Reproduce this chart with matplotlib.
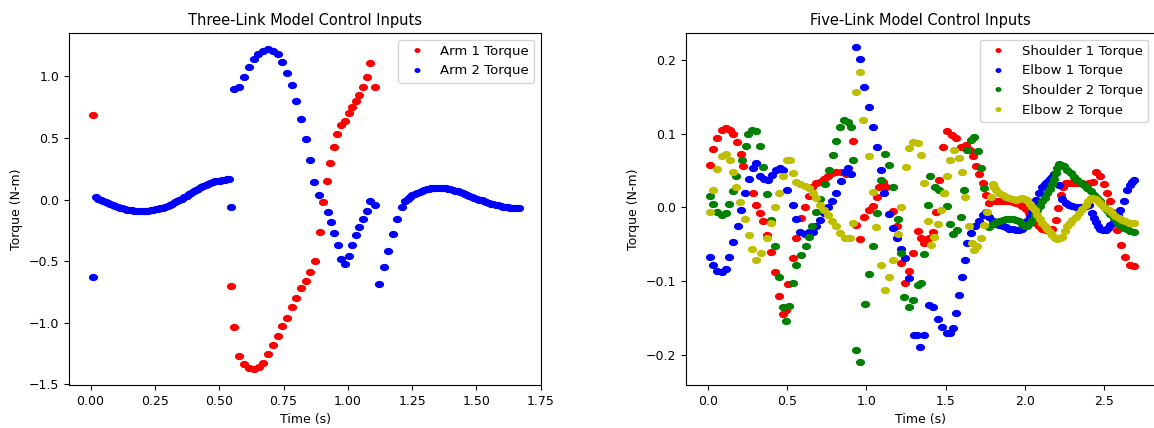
import numpy as np
import matplotlib
matplotlib.use("Agg")
import matplotlib.pyplot as plt
from matplotlib.path import Path

# ---- Three-link model (left) ----
arm1_t = [0.008, 0.545, 0.559, 0.578, 0.597, 0.616, 0.637, 0.656, 0.672, 0.691,
          0.709, 0.728, 0.746, 0.764, 0.782, 0.800, 0.818, 0.837, 0.853, 0.872,
          0.890, 0.905, 0.918, 0.932, 0.947, 0.958, 0.974, 0.990, 1.005, 1.018,
          1.031, 1.045, 1.058, 1.073, 1.087, 1.104]
arm1_y = [0.690, -0.703, -1.036, -1.269, -1.336, -1.369, -1.377, -1.355, -1.323, -1.252,
          -1.182, -1.104, -1.028, -0.958, -0.874, -0.795, -0.719, -0.657, -0.590, -0.495,
          -0.262, -0.019, 0.154, 0.300, 0.428, 0.536, 0.606, 0.639, 0.701, 0.752,
          0.799, 0.852, 0.915, 0.998, 1.110, 0.912]

arm2_t = [0.008,
          0.021, 0.030, 0.040, 0.049, 0.058, 0.068, 0.077, 0.086, 0.095, 0.105,
          0.114, 0.123, 0.132, 0.142, 0.151, 0.160, 0.169, 0.179, 0.188, 0.197,
          0.206, 0.216, 0.225, 0.234, 0.243, 0.253, 0.262, 0.271, 0.280, 0.290,
          0.299, 0.308, 0.317, 0.327, 0.336, 0.345, 0.354, 0.364, 0.373, 0.382,
          0.391, 0.401, 0.410, 0.419, 0.428, 0.438, 0.447, 0.456, 0.465, 0.475,
          0.484, 0.493, 0.502, 0.512, 0.521, 0.530, 0.538,
          0.545, 0.558, 0.578, 0.597, 0.616, 0.634, 0.652, 0.672, 0.691, 0.711,
          0.730, 0.746, 0.764, 0.782, 0.800, 0.818, 0.837, 0.852, 0.870, 0.888,
          0.921, 0.933, 0.946, 0.961, 0.973, 0.990, 1.005, 1.018, 1.032, 1.045,
          1.058, 1.073, 1.087, 1.106, 1.121, 1.139, 1.156, 1.174, 1.191, 1.210,
          1.224, 1.233, 1.242, 1.251, 1.261, 1.270, 1.279, 1.288, 1.298, 1.307,
          1.316, 1.325, 1.335, 1.344, 1.353, 1.362, 1.372, 1.381, 1.390, 1.399,
          1.409, 1.418, 1.427, 1.436, 1.446, 1.455, 1.464, 1.473, 1.483, 1.492,
          1.501, 1.510, 1.520, 1.529, 1.538, 1.547, 1.557, 1.566, 1.575, 1.584,
          1.594, 1.603, 1.612, 1.621, 1.631, 1.640, 1.649, 1.657, 1.664]
arm2_y = [-0.626,
          0.019, 0.008, -0.003, -0.013, -0.022, -0.031, -0.039, -0.047, -0.054, -0.061,
          -0.067, -0.072, -0.077, -0.081, -0.085, -0.088, -0.090, -0.092, -0.093, -0.094,
          -0.094, -0.092, -0.090, -0.087, -0.084, -0.080, -0.075, -0.070, -0.064, -0.057,
          -0.049, -0.041, -0.033, -0.023, -0.012, -0.002, 0.009, 0.020, 0.031, 0.043,
          0.055, 0.067, 0.080, 0.090, 0.100, 0.110, 0.119, 0.127, 0.135, 0.142,
          0.148, 0.152, 0.155, 0.159, 0.162, 0.165, 0.168,
          -0.062, 0.896, 0.917, 0.998, 1.080, 1.142, 1.183, 1.210, 1.223, 1.210,
          1.180, 1.115, 1.031, 0.931, 0.799, 0.652, 0.490, 0.320, 0.146, 0.041,
          -0.100, -0.178, -0.270, -0.370, -0.479, -0.525, -0.457, -0.370, -0.287, -0.219,
          -0.154, -0.092, -0.008, -0.043, -0.682, -0.549, -0.416, -0.278, -0.154, -0.062,
          -0.008, 0.008, 0.024, 0.036, 0.048, 0.057, 0.066, 0.074, 0.081, 0.086,
          0.090, 0.093, 0.095, 0.096, 0.097, 0.097, 0.096, 0.093, 0.090, 0.085,
          0.080, 0.074, 0.067, 0.061, 0.054, 0.047, 0.040, 0.032, 0.024, 0.015,
          0.007, 0.000, -0.007, -0.014, -0.020, -0.027, -0.033, -0.038, -0.042, -0.047,
          -0.051, -0.056, -0.060, -0.063, -0.066, -0.068, -0.069, -0.070, -0.071]

# ---- Five-link model (right) ----
sh1_t = [0.013, 0.034, 0.059, 0.086, 0.117, 0.138, 0.159, 0.184, 0.208, 0.222,
         0.285, 0.306, 0.327, 0.348, 0.375, 0.400, 0.426, 0.449, 0.474, 0.491,
         0.505, 0.537, 0.558, 0.589, 0.612, 0.637, 0.658, 0.683, 0.704, 0.730,
         0.757, 0.784, 0.809, 0.841, 0.872, 0.914, 0.935, 0.962, 0.987, 1.015,
         1.040, 1.065, 1.082, 1.107, 1.124, 1.166, 1.191, 1.218, 1.245, 1.270,
         1.291, 1.323, 1.344, 1.365, 1.396, 1.417, 1.438, 1.459, 1.480, 1.511,
         1.539, 1.564, 1.596, 1.627, 1.652, 1.673, 1.690, 1.711, 1.732, 1.753,
         1.774, 1.795, 1.816, 1.837, 1.858, 1.879, 1.900, 1.921, 1.942, 1.963,
         1.984, 2.005, 2.026, 2.047, 2.068, 2.089, 2.110, 2.131, 2.152, 2.173,
         2.194, 2.210, 2.224, 2.240, 2.256, 2.278, 2.299, 2.320, 2.341, 2.362,
         2.383, 2.404, 2.428, 2.449, 2.476, 2.497, 2.518, 2.533, 2.549, 2.565,
         2.581, 2.606, 2.633, 2.665, 2.686]
sh1_y = [0.057, 0.079, 0.094, 0.105, 0.107, 0.105, 0.099, 0.088, 0.072, 0.056,
         0.020, 0.003, -0.008, -0.019, -0.037, -0.060, -0.088, -0.120, -0.145, -0.139,
         -0.104, -0.069, -0.041, -0.015, 0.001, 0.016, 0.028, 0.033, 0.035, 0.038,
         0.043, 0.046, 0.048, 0.048, 0.045, 0.090, -0.024, -0.043, -0.013, -0.004,
         0.002, 0.014, 0.027, 0.035, 0.027, -0.005, -0.026, -0.076, -0.102, -0.086,
         -0.062, -0.032, -0.041, -0.049, -0.042, -0.033, -0.007, 0.037, 0.082, 0.103,
         0.098, 0.094, 0.082, 0.085, 0.078, 0.069, 0.056, 0.045, 0.033, 0.017,
         0.006, 0.008, 0.009, 0.009, 0.009, 0.008, 0.008, 0.007, 0.006, 0.005,
         0.002, -0.002, -0.008, -0.016, -0.021, -0.026, -0.030, -0.031, -0.032, -0.029,
         -0.017, -0.001, 0.017, 0.027, 0.033, 0.033, 0.033, 0.033, 0.033, 0.033,
         0.032, 0.033, 0.035, 0.048, 0.043, 0.032, 0.019, 0.008, -0.006, -0.018,
         -0.031, -0.051, -0.067, -0.078, -0.080]

el1_t = [0.013, 0.034, 0.059, 0.086, 0.113, 0.134, 0.159, 0.187, 0.208, 0.233,
         0.258, 0.285, 0.306, 0.331, 0.354, 0.379, 0.407, 0.432, 0.453, 0.474,
         0.499, 0.537, 0.558, 0.583, 0.610, 0.637, 0.662, 0.683, 0.709, 0.730,
         0.757, 0.784, 0.809, 0.841, 0.862, 0.883, 0.904, 0.935, 0.962, 0.987,
         1.015, 1.040, 1.065, 1.092, 1.113, 1.145, 1.166, 1.191, 1.218, 1.245,
         1.270, 1.302, 1.317, 1.340, 1.365, 1.396, 1.421, 1.449, 1.476, 1.505,
         1.526, 1.543, 1.564, 1.581, 1.602, 1.623, 1.637, 1.658, 1.686, 1.707,
         1.732, 1.753,
         1.774, 1.795, 1.816, 1.837, 1.858, 1.879, 1.900, 1.921, 1.942, 1.963,
         1.984, 2.000, 2.015, 2.031, 2.046, 2.057, 2.067, 2.088, 2.109, 2.125,
         2.141, 2.157, 2.172, 2.185, 2.214, 2.235, 2.256, 2.277, 2.298, 2.319,
         2.340, 2.361, 2.382, 2.403, 2.424, 2.437, 2.449, 2.462, 2.476, 2.492,
         2.508, 2.524, 2.539, 2.555, 2.570, 2.586, 2.602, 2.623, 2.644, 2.660,
         2.675, 2.690]
el1_y = [-0.067, -0.078, -0.087, -0.088, -0.083, -0.068, -0.047, -0.025, -0.004, 0.019,
         0.038, 0.054, 0.060, 0.043, 0.039, 0.037, 0.044, 0.050, 0.054, 0.050,
         0.024, 0.003, -0.016, -0.033, -0.036, -0.033, -0.034, -0.025, -0.017, -0.008,
         0.001, 0.008, 0.020, 0.036, 0.048, 0.054, 0.045, 0.218, 0.201, 0.163,
         0.136, 0.109, 0.082, 0.051, 0.020, -0.009, -0.028, -0.042, -0.056, -0.069,
         -0.096, -0.173, -0.173, -0.189, -0.173, -0.133, -0.135, -0.151, -0.163, -0.171,
         -0.171, -0.164, -0.144, -0.119, -0.094, -0.071, -0.049, -0.035, -0.026, -0.018,
         -0.010, -0.006,
         -0.013, -0.018, -0.022, -0.024, -0.026, -0.027, -0.029, -0.030, -0.031, -0.031,
         -0.029, -0.025, -0.019, -0.013, -0.006, 0.002, 0.010, 0.019, 0.028, 0.032,
         0.035, 0.038, 0.041, 0.045, 0.030, 0.011, 0.006, 0.003, 0.002, 0.001,
         0.001, 0.001, 0.002, 0.003, -0.008, -0.014, -0.020, -0.025, -0.029, -0.031,
         -0.031, -0.028, -0.024, -0.021, -0.017, -0.011, -0.004, 0.008, 0.023, 0.030,
         0.035, 0.037]

sh2_t = [0.013, 0.034, 0.059, 0.086, 0.113, 0.134, 0.159, 0.180, 0.212, 0.237,
         0.254, 0.281, 0.306, 0.327, 0.348, 0.373, 0.400, 0.426, 0.449, 0.474,
         0.491, 0.512, 0.537, 0.558, 0.589, 0.616, 0.637, 0.658, 0.683, 0.709,
         0.736, 0.761, 0.788, 0.809, 0.836, 0.858, 0.883, 0.904, 0.918, 0.935,
         0.962, 0.990, 1.015, 1.040, 1.066, 1.092, 1.119, 1.140, 1.166, 1.197,
         1.218, 1.239, 1.270, 1.291, 1.323, 1.344, 1.365, 1.386, 1.403, 1.434,
         1.459, 1.490, 1.511, 1.526, 1.543, 1.568, 1.595, 1.616, 1.637, 1.658,
         1.679, 1.704, 1.721, 1.742,
         1.774, 1.795, 1.816, 1.837, 1.858, 1.879, 1.900, 1.921, 1.942, 1.963,
         1.984, 2.000, 2.015, 2.031, 2.046, 2.062, 2.078, 2.094, 2.109, 2.125,
         2.141, 2.157, 2.172, 2.183, 2.193, 2.204, 2.214, 2.230, 2.245, 2.266,
         2.287, 2.308, 2.329, 2.350, 2.371, 2.392, 2.413, 2.434, 2.455, 2.476,
         2.497, 2.518, 2.539, 2.560, 2.581, 2.602, 2.623, 2.644, 2.665, 2.686]
sh2_y = [0.016, 0.005, -0.007, -0.010, -0.008, 0.005, 0.022, 0.043, 0.064, 0.083,
         0.099, 0.105, 0.103, 0.083, 0.055, 0.018, -0.017, -0.053, -0.094, -0.135,
         -0.154, -0.134, -0.103, -0.078, -0.065, -0.053, -0.040, -0.026, -0.006, 0.011,
         0.032, 0.051, 0.071, 0.090, 0.109, 0.118, 0.116, 0.109, 0.064, -0.194,
         -0.210, -0.131, -0.091, -0.052, -0.008, 0.037, 0.072, 0.057, 0.028, -0.016,
         -0.062, -0.121, -0.135, -0.126, -0.105, -0.103, -0.063, 0.003, 0.042, 0.028,
         0.024, 0.019, 0.002, -0.022, -0.036, -0.031, -0.013, 0.024, 0.078, 0.091,
         0.096, 0.076, 0.053, 0.026,
         -0.027, -0.023, -0.020, -0.018, -0.017, -0.016, -0.016, -0.016, -0.017, -0.019,
         -0.022, -0.025, -0.026, -0.021, -0.017, -0.010, -0.004, 0.002, 0.008, 0.013,
         0.019, 0.025, 0.032, 0.039, 0.046, 0.053, 0.059, 0.058, 0.056, 0.051,
         0.046, 0.041, 0.037, 0.033, 0.030, 0.026, 0.022, 0.017, 0.013, 0.008,
         0.002, -0.003, -0.009, -0.014, -0.020, -0.024, -0.028, -0.030, -0.032, -0.033]

el2_t = [0.013, 0.034, 0.059, 0.086, 0.113, 0.138, 0.159, 0.180, 0.205, 0.233,
         0.258, 0.281, 0.306, 0.333, 0.373, 0.400, 0.424, 0.447, 0.474, 0.499,
         0.516, 0.537, 0.558, 0.583, 0.610, 0.637, 0.662, 0.683, 0.704, 0.730,
         0.757, 0.784, 0.809, 0.834, 0.862, 0.893, 0.914, 0.935, 0.962, 0.977,
         1.015, 1.040, 1.061, 1.092, 1.119, 1.145, 1.166, 1.197, 1.218, 1.249,
         1.270, 1.296, 1.323, 1.344, 1.365, 1.386, 1.407, 1.428, 1.449, 1.470,
         1.490, 1.511, 1.526, 1.553, 1.581, 1.602, 1.623, 1.644, 1.665, 1.679,
         1.700, 1.721, 1.742, 1.763, 1.784,
         1.795, 1.805, 1.816, 1.837, 1.858, 1.879, 1.900, 1.921, 1.942, 1.963,
         1.983, 2.000, 2.015, 2.031, 2.046, 2.062, 2.078, 2.094, 2.109, 2.125,
         2.141, 2.157, 2.172, 2.188, 2.203, 2.219, 2.235, 2.251, 2.267, 2.283,
         2.298, 2.319, 2.340, 2.361, 2.382, 2.398, 2.413, 2.429, 2.445, 2.466,
         2.487, 2.507, 2.528, 2.549, 2.570, 2.591, 2.612, 2.633, 2.654, 2.670,
         2.686]
el2_y = [-0.007, 0.024, 0.052, 0.069, 0.072, 0.064, 0.048, 0.028, 0.007, -0.016,
         -0.038, -0.057, -0.071, -0.062, -0.042, -0.021, 0.000, 0.019, 0.042, 0.064,
         0.064, 0.047, 0.035, 0.032, 0.029, 0.026, 0.019, 0.012, 0.003, -0.004,
         -0.010, -0.018, -0.026, -0.035, -0.041, -0.042, -0.021, 0.157, 0.184, 0.118,
         0.069, 0.021, -0.027, -0.078, -0.112, -0.094, -0.071, -0.036, 0.001, 0.055,
         0.080, 0.088, 0.087, 0.071, 0.033, -0.019, -0.051, -0.040, -0.022, -0.004,
         0.019, 0.042, 0.064, 0.078, 0.067, 0.048, 0.014, -0.026, -0.049, -0.058,
         -0.053, -0.041, -0.024, -0.006, 0.014,
         0.031, 0.028, 0.024, 0.020, 0.017, 0.014, 0.012, 0.011, 0.010, 0.011,
         0.012, 0.011, 0.010, 0.005, 0.001, -0.004, -0.010, -0.016, -0.021, -0.025,
         -0.029, -0.034, -0.038, -0.041, -0.043, -0.042, -0.040, -0.032, -0.025, -0.021,
         -0.017, -0.013, -0.008, -0.002, 0.003, 0.008, 0.013, 0.012, 0.011, 0.007,
         0.003, -0.001, -0.004, -0.008, -0.012, -0.015, -0.017, -0.019, -0.021, -0.021,
         -0.021]

# slightly squashed dot, like the original
th = np.linspace(0, 2 * np.pi, 40)
dot = Path(np.column_stack([np.cos(th), 0.75 * np.sin(th)]), closed=True)

plt.rcParams["font.family"] = ["DejaVu Sans"]
plt.rcParams["font.size"] = 9

fig = plt.figure(figsize=(11.54, 4.28), dpi=100)
ax1 = fig.add_axes([0.0598, 0.1005, 0.409, 0.8224])
ax2 = fig.add_axes([0.5945, 0.1005, 0.4064, 0.8224])

ms = 5.6
ax1.plot(arm1_t, arm1_y, "r", marker=dot, ls="none", ms=ms, label="Arm 1 Torque")
ax1.plot(arm2_t, arm2_y, "b", marker=dot, ls="none", ms=ms, label="Arm 2 Torque")
ax1.set_xlim(-0.084, 1.751)
ax1.set_ylim(-1.505, 1.353)
ax1.set_xticks([0.0, 0.25, 0.5, 0.75, 1.0, 1.25, 1.5, 1.75])
ax1.set_title("Three-Link Model Control Inputs", fontsize=10.5)
ax1.set_xlabel("Time (s)")
ax1.set_ylabel("Torque (N-m)")
ax1.legend(loc="upper right", markerscale=0.6, fontsize=9.5)

ax2.plot(sh1_t, sh1_y, "r", marker=dot, ls="none", ms=ms, label="Shoulder 1 Torque")
ax2.plot(el1_t, el1_y, "b", marker=dot, ls="none", ms=ms, label="Elbow 1 Torque")
ax2.plot(sh2_t, sh2_y, "g", marker=dot, ls="none", ms=ms, label="Shoulder 2 Torque")
ax2.plot(el2_t, el2_y, "y", marker=dot, ls="none", ms=ms, label="Elbow 2 Torque")
ax2.set_xlim(-0.138, 2.82)
ax2.set_ylim(-0.241, 0.2365)
ax2.set_xticks([0.0, 0.5, 1.0, 1.5, 2.0, 2.5])
ax2.set_title("Five-Link Model Control Inputs", fontsize=10.5)
ax2.set_xlabel("Time (s)")
ax2.set_ylabel("Torque (N-m)")
ax2.legend(loc="upper right", markerscale=0.6, fontsize=9.5)

fig.savefig("out.png", dpi=100)
